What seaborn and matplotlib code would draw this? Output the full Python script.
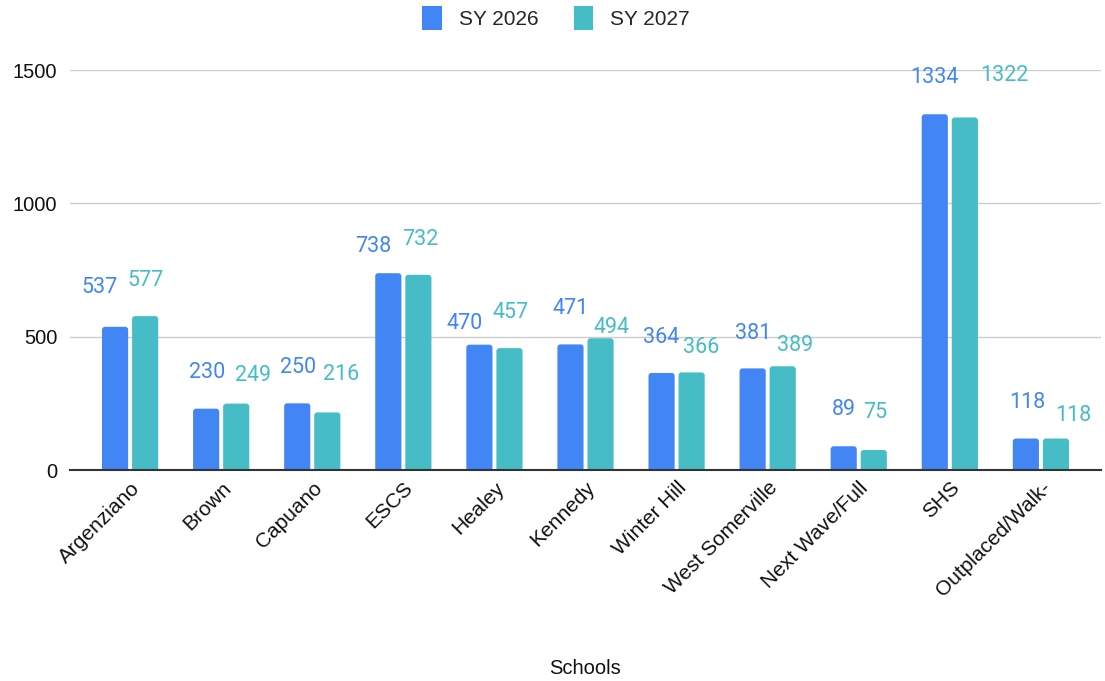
import matplotlib
matplotlib.use("Agg")
import matplotlib.pyplot as plt
import seaborn as sns
import pandas as pd
from matplotlib.patches import Patch, FancyBboxPatch

schools = ["Argenziano", "Brown", "Capuano", "ESCS", "Healey", "Kennedy",
           "Winter Hill", "West Somerville", "Next Wave/Full", "SHS", "Outplaced/Walk-"]
sy2026 = [537, 230, 250, 738, 470, 471, 364, 381, 89, 1334, 118]
sy2027 = [577, 249, 216, 732, 457, 494, 366, 389, 75, 1322, 118]
series = ["SY 2026", "SY 2027"]
yticks = [0, 500, 1000, 1500]

# label placement nudges (pixels) mimicking the reference's collision avoidance
lab_dx = {"SY 2026": [-16, 1, 1, -15, -15, 0, 0, 0, 0, 0, 1],
          "SY 2027": [0, 17, 14, 2, 1, 11, 10, 12, 1, 39, 17]}
lab_dy = {"SY 2026": [39, 36, 36, 27, 21, 36, 35, 35, 37, 37, 36],
          "SY 2027": [36, 28, 38, 35, 36, 11, 25, 21, 38, 42, 23]}

colors = {"SY 2026": "#4285F4", "SY 2027": "#46BDC6"}

df = pd.DataFrame({
    "Schools": schools * 2,
    "Students": sy2026 + sy2027,
    "Year": [series[0]] * len(schools) + [series[1]] * len(schools),
})

sns.set_theme(style="white")
plt.rcParams["font.family"] = ["Liberation Sans", "DejaVu Sans"]

W, H = 1105, 681
fig = plt.figure(figsize=(W / 100, H / 100), dpi=100)
ax_w_px, ax_h_px = 1101 - 70, 400
ax = fig.add_axes([70 / W, 1 - 470 / H, ax_w_px / W, ax_h_px / H])

sns.barplot(data=df, x="Schools", y="Students", hue="Year", palette=colors,
            width=0.66, gap=0.13, ax=ax, legend=False, saturation=1, errorbar=None)

ymax = 1500
xlo, xhi = -0.66, len(schools) - 1 + 0.66
ax.set_ylim(0, ymax)
ax.set_xlim(xlo, xhi)
ax.set_yticks(yticks)
ax.set_yticklabels([str(t) for t in yticks], fontsize=14.5, color="#111111")
ax.yaxis.grid(True, color="#cccccc", linewidth=1)
ax.set_axisbelow(True)
for s in ["top", "right", "left"]:
    ax.spines[s].set_visible(False)
ax.spines["bottom"].set_color("#333333")
ax.spines["bottom"].set_linewidth(1.5)
ax.spines["bottom"].set_zorder(5)
ax.tick_params(axis="y", length=0, pad=9)
ax.tick_params(axis="x", length=0, pad=6)
ax.set_xticks(range(len(schools)))
ax.set_xticklabels(schools, rotation=45, ha="right", rotation_mode="anchor",
                   fontsize=15, color="#111111")
ax.set_xlabel("")
ax.set_ylabel("")

# rounded bar tops
px_x = ax_w_px / (xhi - xlo)
px_y = ax_h_px / ymax
r_px = 3.0
rx = r_px / px_x
ry = r_px / px_y
for cont, name in zip(ax.containers, series):
    for bar in cont:
        x, w, h = bar.get_x(), bar.get_width(), bar.get_height()
        bar.set_visible(False)
        fb = FancyBboxPatch((x, -ry), w, h + ry,
                            boxstyle=f"round,pad=0,rounding_size={rx}",
                            mutation_aspect=ry / rx, facecolor=colors[name],
                            edgecolor="none", zorder=3)
        ax.add_patch(fb)

for cont, name in zip(ax.containers, series):
    for i, bar in enumerate(cont):
        xc = bar.get_x() + bar.get_width() / 2
        h = bar.get_height()
        ax.annotate(f"{int(round(h))}", xy=(xc, h),
                    xytext=(lab_dx[name][i] * 0.72, lab_dy[name][i] * 0.72),
                    textcoords="offset points", ha="center", va="center",
                    fontsize=15.5, color=colors[name], family=["Roboto", "DejaVu Sans"],
                    annotation_clip=False)

fig.text(585 / W, 1 - 668 / H, "Schools", ha="center", va="center",
         fontsize=14.5, color="#111111")

handles = [Patch(facecolor=colors[s], edgecolor="none") for s in series]
fig.legend(handles, series, loc="center", bbox_to_anchor=(556 / W, 1 - 18 / H),
           ncol=2, frameon=False, fontsize=15, handlelength=0.95, handleheight=1.35,
           handletextpad=0.8, columnspacing=1.7)

fig.savefig("out.png", dpi=100, facecolor="white")
